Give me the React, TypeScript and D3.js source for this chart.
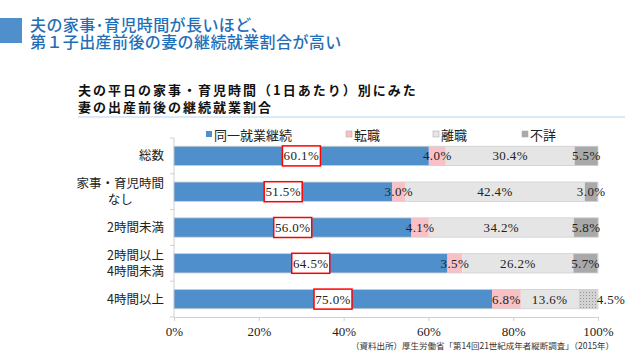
import React, { useEffect, useRef } from 'react';
import * as d3 from 'd3';

const categories = ['総数', '家事・育児時間\nなし', '2時間未満', '2時間以上\n4時間未満', '4時間以上'];
const seriesNames = ['同一就業継続', '転職', '離職', '不詳'];
const continued = [60.1, 51.5, 56.0, 64.5, 75.0];
const changedJob = [4.0, 3.0, 4.1, 3.5, 6.8];
const leftJob = [30.4, 42.4, 34.2, 26.2, 13.6];
const unknown = [5.5, 3.0, 5.8, 5.7, 4.5];
const xTicks = [0, 20, 40, 60, 80, 100];

const titleLines = ['夫の家事･育児時間が長いほど、', '第１子出産前後の妻の継続就業割合が高い'];
const subtitleLines = ['夫の平日の家事・育児時間（1日あたり）別にみた', '妻の出産前後の継続就業割合'];
const sourceNote = '（資料出所）厚生労働省「第14回21世紀成年者縦断調査」（2015年）';

const colors = ['#4f8fcc', '#f8c1c5', '#e5e5e5', '#a9a9a9'];
const JP = '"Noto Sans CJK JP", sans-serif';
const SERIF = '"Liberation Serif", "DejaVu Serif", serif';

export default function App() {
	const ref = useRef<SVGSVGElement>(null);

	useEffect(() => {
		const svg = d3.select(ref.current);
		svg.selectAll('*').remove();

		const rows = categories.map((c, i) => ({
			cat: c,
			s0: continued[i],
			s1: changedJob[i],
			s2: leftJob[i],
			s3: unknown[i],
		}));
		const keys = ['s0', 's1', 's2', 's3'];
		const stacked = d3.stack<any>().keys(keys)(rows);

		const x = d3.scaleLinear().domain([0, 100]).range([174, 598]);
		const y = d3.scaleBand().domain(categories).range([138, 317]).paddingInner(0.46).paddingOuter(0.23);

		// dotted pattern for the last 不詳 segment
		const defs = svg.append('defs');
		const pat = defs
			.append('pattern')
			.attr('id', 'dots')
			.attr('width', 3)
			.attr('height', 3)
			.attr('patternUnits', 'userSpaceOnUse');
		pat.append('rect').attr('width', 3).attr('height', 3).attr('fill', '#d2d2d2');
		pat.append('rect').attr('x', 1).attr('y', 1).attr('width', 1).attr('height', 1).attr('fill', '#9a9a9a');

		// header
		svg.append('rect').attr('x', 0).attr('y', 18).attr('width', 22).attr('height', 25).attr('fill', '#4f8fcc');
		svg
			.append('g')
			.selectAll('text')
			.data(titleLines)
			.enter()
			.append('text')
			.attr('x', 30)
			.attr('y', (d, i) => 30.5 + i * 17.5)
			.attr('font-family', JP)
			.attr('font-size', 16)
			.attr('font-weight', 500)
			.attr('letter-spacing', 0.4)
			.attr('fill', '#1f6fb8')
			.text(d => d);

		svg
			.append('g')
			.selectAll('text')
			.data(subtitleLines)
			.enter()
			.append('text')
			.attr('x', 78)
			.attr('y', (d, i) => 95 + i * 16.5)
			.attr('font-family', JP)
			.attr('font-size', 13)
			.attr('font-weight', 700)
			.attr('letter-spacing', 2)
			.attr('fill', '#111')
			.text(d => d);
		svg.append('line').attr('x1', 78).attr('x2', 625).attr('y1', 117).attr('y2', 117).attr('stroke', '#b9d3ee').attr('stroke-width', 1.2);

		// legend
		const legendX = [206, 346, 433, 522];
		const lg = svg
			.append('g')
			.selectAll('g')
			.data(seriesNames)
			.enter()
			.append('g')
			.attr('transform', (d, i) => `translate(${legendX[i]},135)`);
		lg.append('rect')
			.attr('x', 0)
			.attr('y', -4)
			.attr('width', 6)
			.attr('height', 6)
			.attr('fill', (d, i) => colors[i])
			.attr('stroke', (d, i) => (i === 0 ? 'none' : '#b0b0b0'))
			.attr('stroke-width', 0.6);
		lg.append('text')
			.attr('x', 8)
			.attr('y', 4.5)
			.attr('font-family', JP)
			.attr('font-size', 13)
			.attr('fill', '#222')
			.text(d => d);

		// axes
		const xAxis = d3.axisBottom(x).tickValues(xTicks).tickSize(4).tickFormat(d => `${d}%`);
		const gx = svg.append('g').attr('transform', 'translate(0,317)').call(xAxis);
		gx.select('.domain').attr('stroke', '#d0d0d0');
		gx.selectAll('.tick line').attr('stroke', '#d0d0d0');
		gx.selectAll('.tick text')
			.attr('font-family', SERIF)
			.attr('font-size', 13)
			.attr('fill', '#222')
			.attr('dy', '0.9em');

		const step = y.step();
		const bounds = d3.range(categories.length + 1).map(i => Math.min(138 + i * step, 317));
		svg.append('line').attr('x1', 174).attr('x2', 174).attr('y1', 138).attr('y2', 317).attr('stroke', '#d0d0d0');
		svg
			.append('g')
			.selectAll('line')
			.data(bounds)
			.enter()
			.append('line')
			.attr('x1', 170)
			.attr('x2', 174)
			.attr('y1', d => d)
			.attr('y2', d => d)
			.attr('stroke', '#d0d0d0');

		// category labels, multi-line ones centred as a block
		const catG = svg
			.append('g')
			.selectAll('text')
			.data(categories)
			.enter()
			.append('text')
			.attr('font-family', JP)
			.attr('font-size', 12.5)
			.attr('fill', '#222');
		catG.each(function (d) {
			const lines = d.split('\n');
			const t = d3.select(this);
			const cy = (y(d) as number) + y.bandwidth() / 2;
			lines.forEach((ln, j) => {
				t.append('tspan')
					.attr('y', cy + 4.5 + (j - (lines.length - 1) / 2) * 16.5)
					.text(ln);
			});
		});
		catG.each(function () {
			const t = d3.select(this);
			const spans = t.selectAll<SVGTSpanElement, unknown>('tspan');
			const widths = spans.nodes().map(n => n.getComputedTextLength());
			const w = d3.max(widths) || 0;
			spans.attr('x', 164 - w / 2).attr('text-anchor', 'middle');
		});

		// bars
		const layers = svg
			.append('g')
			.selectAll('g')
			.data(stacked)
			.enter()
			.append('g')
			.attr('fill', (d, i) => colors[i]);
		layers
			.selectAll('rect')
			.data(d => d.map(p => ({ p, key: d.key })))
			.enter()
			.append('rect')
			.attr('x', d => x(d.p[0]))
			.attr('y', d => y(d.p.data.cat) as number)
			.attr('width', d => x(d.p[1]) - x(d.p[0]))
			.attr('height', y.bandwidth())
			.attr('fill', d => (d.key === 's3' && d.p.data.cat === '4時間以上' ? 'url(#dots)' : null));
		svg
			.append('g')
			.selectAll('rect')
			.data(categories)
			.enter()
			.append('rect')
			.attr('x', 174)
			.attr('y', d => y(d) as number)
			.attr('width', x(100) - x(0))
			.attr('height', y.bandwidth())
			.attr('fill', 'none')
			.attr('stroke', '#cfcfcf')
			.attr('stroke-width', 0.8);

		// value labels
		const lab = svg.append('g');
		stacked.forEach((layer, li) => {
			layer.forEach((p, ri) => {
				const v = p[1] - p[0];
				let cx = x((p[0] + p[1]) / 2);
				const cy = (y(p.data.cat) as number) + y.bandwidth() / 2;
				// last small segment label sits outside the bar
				if (li === 3 && ri === categories.length - 1) cx = 611;
				const txt = `${v.toFixed(1)}%`;
				if (li === 0) {
					lab.append('rect')
						.attr('x', cx - 19)
						.attr('y', cy - 10)
						.attr('width', 38)
						.attr('height', 20)
						.attr('fill', '#fff')
						.attr('stroke', '#ff0000')
						.attr('stroke-width', 1.5);
				}
				lab.append('text')
					.attr('x', cx)
					.attr('y', cy + 4.5)
					.attr('text-anchor', 'middle')
					.attr('font-family', SERIF)
					.attr('font-size', 13)
					.attr('letter-spacing', 0.4)
					.attr('fill', '#222')
					.text(txt);
			});
		});

		// source
		svg.append('text')
			.attr('x', 614)
			.attr('y', 349)
			.attr('text-anchor', 'end')
			.attr('font-family', JP)
			.attr('font-size', 8.5)
			.attr('fill', '#333')
			.text(sourceNote);
	}, []);

	return (
		<svg
			ref={ref}
			width={625}
			height={352}
			style={{ position: 'absolute', left: 0, top: 0, background: '#fff' }}
		/>
	);
}
